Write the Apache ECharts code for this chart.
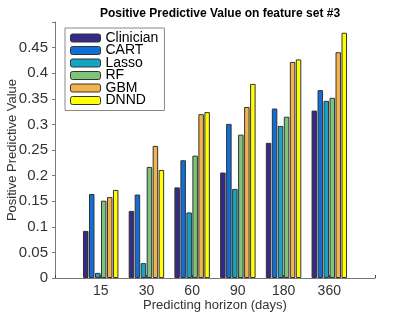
<!DOCTYPE html>
<html><head><meta charset="utf-8">
<script src="https://cdn.jsdelivr.net/npm/echarts@6/dist/echarts.min.js"></script>
<style>html,body{margin:0;padding:0;background:#fff}#c{width:415px;height:312px}</style>
</head><body><div id="c"></div>
<script>
const categories = ['15','30','60','90','180','360'];
const seriesNames = ['Clinician','CART','Lasso','RF','GBM','DNND'];
const clinician = [0.092,0.131,0.177,0.206,0.264,0.327];
const cart      = [0.164,0.163,0.230,0.301,0.331,0.367];
const lasso     = [0.010,0.029,0.128,0.174,0.297,0.346];
const rf        = [0.151,0.217,0.239,0.280,0.315,0.352];
const gbm       = [0.158,0.258,0.320,0.334,0.422,0.441];
const dnnd      = [0.172,0.211,0.324,0.379,0.427,0.479];
const yTicks = [0,0.05,0.1,0.15,0.2,0.25,0.3,0.35,0.4,0.45];
const colors = ['#352a87','#0f6ed8','#13a5c3','#7dc47a','#f2b44a','#ffff00'];
const allData = [clinician,cart,lasso,rf,gbm,dnnd];
const font = 'Liberation Sans, Arial, sans-serif';
const chart = echarts.init(document.getElementById('c'));
chart.setOption({
  animation:false,
  title:{text:'Positive Predictive Value on feature set #3',left:215,textAlign:'center',top:3,
    textStyle:{fontFamily:font,fontWeight:'bold',fontSize:12,color:'#000'}},
  legend:{orient:'vertical',left:65,top:28,data:seriesNames,itemWidth:30,itemHeight:8,itemGap:-1.5,
    padding:[3,6,3,5],borderColor:'#888',borderWidth:1,backgroundColor:'#fff',
    textStyle:{fontFamily:font,fontSize:14,color:'#000'},
    itemStyle:{borderColor:'#333',borderWidth:1}},
  grid:{left:55,right:40,top:22,bottom:34,outerBoundsMode:'none',containLabel:false},
  xAxis:{type:'value',min:0,max:7,interval:1,
    name:'Predicting horizon (days)',nameLocation:'middle',nameGap:21,nameMoveOverlap:false,
    nameTextStyle:{fontFamily:font,fontSize:13,color:'#333'},
    axisLine:{lineStyle:{color:'#777'}},
    axisTick:{inside:true,length:3,lineStyle:{color:'#444'}},
    splitLine:{show:false},
    axisLabel:{fontFamily:font,fontSize:14,color:'#333',margin:6,
      formatter:v=>categories[v-1]||''}},
  yAxis:{type:'value',min:0,max:0.5,interval:0.05,
    name:'Positive Predictive Value',nameLocation:'middle',nameGap:36,nameMoveOverlap:false,
    nameTextStyle:{fontFamily:font,fontSize:13,color:'#333'},
    axisLine:{show:true,lineStyle:{color:'#777'}},
    axisTick:{show:true,length:3,lineStyle:{color:'#777'}},
    splitLine:{show:false},
    axisLabel:{fontFamily:font,fontSize:15,color:'#333',margin:7,
      formatter:v=>{const t=yTicks.find(x=>Math.abs(x-v)<1e-9);return t===undefined?'':String(t);}}},
  series:seriesNames.map((n,i)=>({
    name:n,type:'bar',barWidth:5.5,barGap:'9%',
    itemStyle:{color:colors[i],borderColor:'#333',borderWidth:1},
    data:allData[i].map((v,j)=>[j+1,v])
  }))
});
</script></body></html>
